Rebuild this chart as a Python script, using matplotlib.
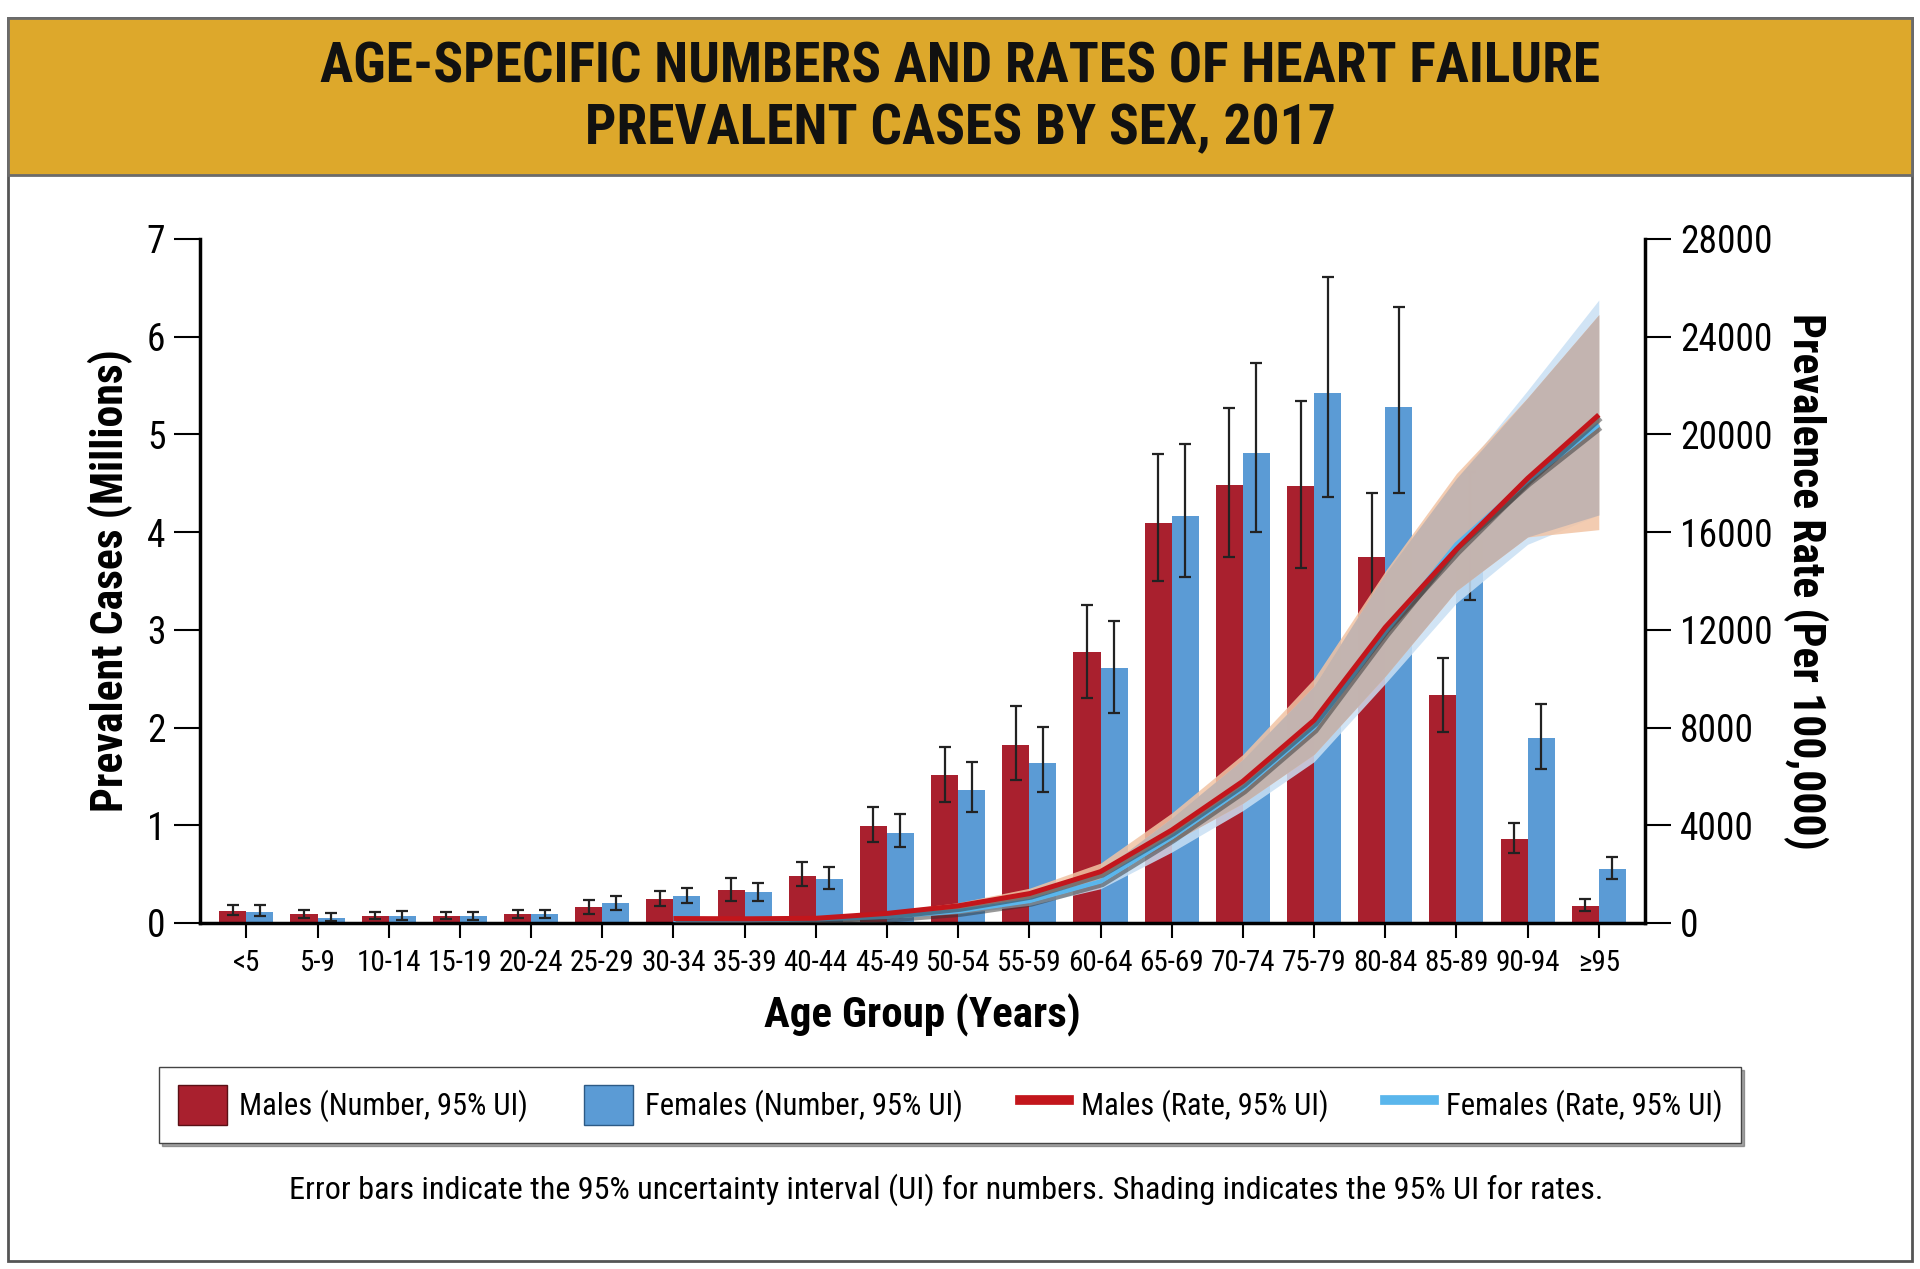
import numpy as np
import matplotlib.pyplot as plt
import matplotlib.patheffects as pe
from matplotlib import font_manager as fm
from matplotlib.patches import Patch, Rectangle
from matplotlib.lines import Line2D


def pick_condensed():
    # the original uses a condensed sans; take whatever narrow face is installed
    entries = fm.fontManager.ttflist
    names = {f.name for f in entries}
    for p in ["Liberation Sans Narrow", "Roboto Condensed", "Open Sans Condensed",
              "Noto Sans Condensed", "DejaVu Sans Condensed"]:
        if p in names:
            return p, "normal"
    for f in entries:
        if f.stretch in ("condensed", "semi-condensed", "extra-condensed"):
            return f.name, f.stretch
    return None, "normal"


cond_family, cond_stretch = pick_condensed()
fam = [cond_family] if cond_family else []
plt.rcParams['font.family'] = fam + ['DejaVu Sans']
plt.rcParams['font.stretch'] = cond_stretch

# --- data ---
ages = ["<5", "5-9", "10-14", "15-19", "20-24", "25-29", "30-34", "35-39", "40-44",
        "45-49", "50-54", "55-59", "60-64", "65-69", "70-74", "75-79", "80-84",
        "85-89", "90-94", "≥95"]

# prevalent cases, millions
male_num = [0.12, 0.09, 0.07, 0.07, 0.09, 0.16, 0.25, 0.34, 0.48, 0.99, 1.51, 1.82,
            2.77, 4.09, 4.48, 4.47, 3.75, 2.33, 0.86, 0.17]
male_lo = [0.08, 0.05, 0.04, 0.04, 0.05, 0.09, 0.17, 0.22, 0.38, 0.83, 1.24, 1.46,
           2.30, 3.50, 3.75, 3.63, 3.14, 1.95, 0.72, 0.12]
male_hi = [0.18, 0.13, 0.11, 0.11, 0.13, 0.23, 0.33, 0.46, 0.62, 1.19, 1.80, 2.22,
           3.25, 4.80, 5.27, 5.34, 4.40, 2.71, 1.02, 0.24]
female_num = [0.11, 0.05, 0.07, 0.07, 0.09, 0.20, 0.28, 0.32, 0.45, 0.92, 1.36, 1.64,
              2.61, 4.16, 4.81, 5.42, 5.28, 3.92, 1.89, 0.55]
female_lo = [0.07, 0.02, 0.03, 0.03, 0.05, 0.13, 0.20, 0.22, 0.35, 0.78, 1.14, 1.34,
             2.15, 3.54, 4.00, 4.36, 4.40, 3.30, 1.58, 0.45]
female_hi = [0.18, 0.10, 0.12, 0.11, 0.13, 0.28, 0.36, 0.41, 0.57, 1.11, 1.65, 2.01,
             3.09, 4.90, 5.73, 6.61, 6.30, 4.62, 2.24, 0.67]

# prevalence rate per 100,000 (drawn from 30-34 onwards)
rate_ages = ages[6:]
male_rate = [180, 170, 190, 390, 700, 1200, 2100, 3800, 5800, 8300, 12100, 15300, 18200, 20800]
male_rate_lo = [140, 130, 150, 320, 590, 1020, 1800, 3300, 4900, 6900, 10100, 13600, 15800, 16100]
male_rate_hi = [230, 220, 240, 470, 830, 1420, 2450, 4500, 6900, 10000, 14400, 18400, 21500, 24900]
female_rate = [120, 120, 150, 250, 480, 900, 1700, 3500, 5500, 8000, 11900, 15500, 18100, 20400]
female_rate_lo = [90, 90, 110, 190, 380, 720, 1400, 2900, 4600, 6600, 9800, 13100, 15500, 16700]
female_rate_hi = [160, 160, 200, 320, 600, 1120, 2100, 4300, 6700, 9700, 14300, 18200, 21800, 25500]

# --- colours ---
gold = "#DDA82B"
male_bar = "#A9202E"
female_bar = "#5B9BD5"
male_line = "#C3161C"
female_line = "#5AB6EC"

fig = plt.figure(figsize=(19.2, 12.69), dpi=100)

# frame + title band
fig.patches.append(Rectangle((0.004, 0.006), 0.992, 0.98, transform=fig.transFigure,
                             facecolor="white", edgecolor="#555555", lw=2, zorder=-10))
fig.patches.append(Rectangle((0.004, 0.862), 0.992, 0.124, transform=fig.transFigure,
                             facecolor=gold, edgecolor="#6b6b6b", lw=2, zorder=-9))
fig.text(0.5, 0.9225, "AGE-SPECIFIC NUMBERS AND RATES OF HEART FAILURE\nPREVALENT CASES BY SEX, 2017",
         ha="center", va="center", fontsize=40, fontweight="bold", linespacing=1.22,
         color="#111111")

ax = fig.add_axes([0.1042, 0.2727, 0.7526, 0.539])
x = np.arange(len(ages))
w = 0.38
err_kw = dict(ecolor="#222222", elinewidth=1.6, capsize=4, capthick=1.6)
ax.bar(x - w / 2, male_num, w, color=male_bar,
       yerr=[np.array(male_num) - male_lo, np.array(male_hi) - male_num], error_kw=err_kw)
ax.bar(x + w / 2, female_num, w, color=female_bar,
       yerr=[np.array(female_num) - female_lo, np.array(female_hi) - female_num], error_kw=err_kw)

ax.set_xlim(-0.65, len(ages) - 0.35)
ax.set_ylim(0, 7)
ax.set_yticks(range(0, 8))
ax.set_xticks(x)
ax.set_xticklabels(ages)
ax.tick_params(axis="y", length=19, width=1.5, labelsize=27, pad=6)
ax.tick_params(axis="x", length=11, width=1.5, labelsize=21, pad=8)
for s in ["top", "right"]:
    ax.spines[s].set_visible(False)
for s in ["left", "bottom"]:
    ax.spines[s].set_linewidth(2.5)
ax.set_ylabel("Prevalent Cases (Millions)", fontsize=31.5, fontweight="bold", labelpad=10)
ax.set_xlabel("Age Group (Years)", fontsize=31, fontweight="bold", labelpad=12)

# --- rates on the right axis ---
ax2 = ax.twinx()
xr = np.array([ages.index(a) for a in rate_ages])
mlo, mhi = np.array(male_rate_lo), np.array(male_rate_hi)
flo, fhi = np.array(female_rate_lo), np.array(female_rate_hi)
ax2.fill_between(xr, flo, fhi, color="#C9E0F4", alpha=0.85, lw=0)
ax2.fill_between(xr, mlo, mhi, color="#F2C4A4", alpha=0.85, lw=0)
ax2.fill_between(xr, np.maximum(mlo, flo), np.minimum(mhi, fhi), color="#BFB2B0", alpha=0.9, lw=0)
shadow = [pe.SimpleLineShadow(offset=(1.5, -2.5), shadow_color="#333333", alpha=0.5), pe.Normal()]
ax2.plot(xr, female_rate, color=female_line, lw=3.2, solid_capstyle="butt", path_effects=shadow)
ax2.plot(xr, male_rate, color=male_line, lw=3.6, solid_capstyle="butt", path_effects=shadow)

ax2.set_ylim(0, 28000)
ax2.set_yticks(range(0, 28001, 4000))
ax2.tick_params(axis="y", length=19, width=1.5, labelsize=27, pad=6)
ax2.spines["top"].set_visible(False)
ax2.spines["left"].set_visible(False)
ax2.spines["bottom"].set_visible(False)
ax2.spines["right"].set_linewidth(2.5)
ax2.set_ylabel("Prevalence Rate (Per 100,000)", fontsize=31.5, fontweight="bold",
               rotation=270, labelpad=40)

# --- legend ---
handles = [
    Patch(facecolor=male_bar, edgecolor="#5a1015", lw=1),
    Patch(facecolor=female_bar, edgecolor="#2d5a85", lw=1),
    Line2D([], [], color=male_line, lw=7),
    Line2D([], [], color=female_line, lw=7),
]
labels = ["Males (Number, 95% UI)", "Females (Number, 95% UI)",
          "Males (Rate, 95% UI)", "Females (Rate, 95% UI)"]
fig.legend(handles, labels, loc="center", ncol=4, mode="expand",
           bbox_to_anchor=(0.083, 0.0977, 0.824, 0.063), borderaxespad=0, fontsize=22,
           frameon=True, fancybox=False, shadow=True, edgecolor="#444444",
           handlelength=1.6, handleheight=1.6, handletextpad=0.4, borderpad=0.6)

fig.text(0.493, 0.0623,
         "Error bars indicate the 95% uncertainty interval (UI) for numbers. Shading indicates the 95% UI for rates.",
         ha="center", va="center", fontsize=23.2)

fig.savefig("out.png", dpi=100)
